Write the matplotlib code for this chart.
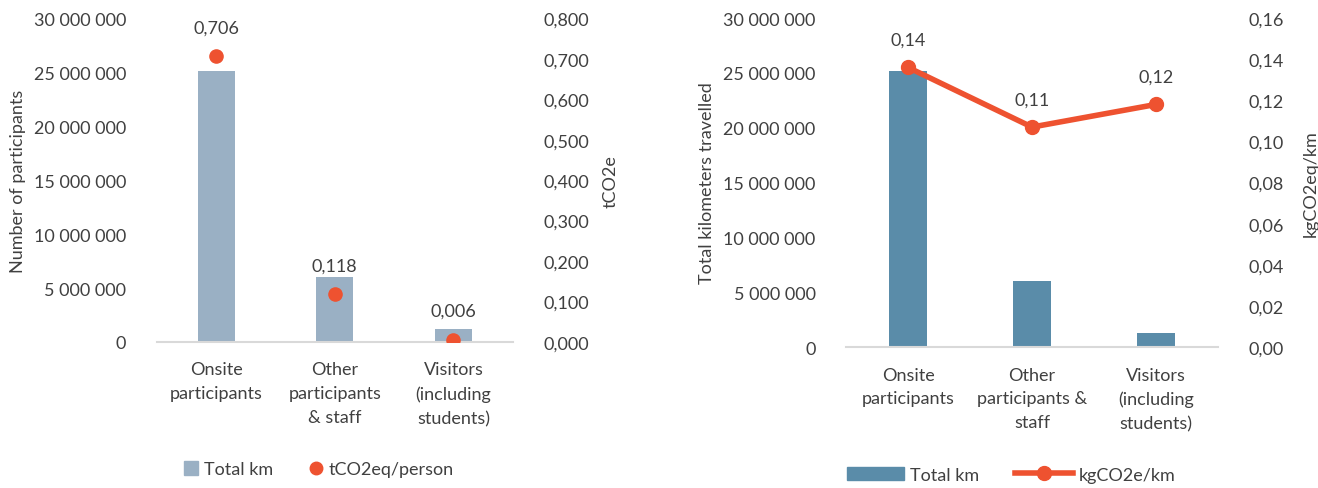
import matplotlib
matplotlib.use("Agg")
import matplotlib.pyplot as plt
from matplotlib.ticker import FuncFormatter
from matplotlib.lines import Line2D
from matplotlib.patches import Patch

plt.rcParams['font.family'] = ['Lato', 'DejaVu Sans']

cats_left = ["Onsite\nparticipants", "Other\nparticipants\n& staff", "Visitors\n(including\nstudents)"]
cats_right = ["Onsite\nparticipants", "Other\nparticipants &\nstaff", "Visitors\n(including\nstudents)"]
km_left = [25100000, 6000000, 1200000]
tco2_person = [0.706, 0.118, 0.006]
tco2_labels = ["0,706", "0,118", "0,006"]
km_right = [25200000, 6000000, 1250000]
kg_per_km = [0.136, 0.107, 0.118]
kg_labels = ["0,14", "0,11", "0,12"]

TXT = '#404040'
FS = 13
BAR_L = '#9AB0C4'
BAR_R = '#5A8CA9'
ORANGE = '#EE5230'

def space_fmt(v, p):
    return f"{int(round(v)):,}".replace(",", " ")

def comma_fmt(nd):
    return FuncFormatter(lambda v, p: f"{v:.{nd}f}".replace(".", ","))

fig = plt.figure(figsize=(13.18, 4.89), dpi=100)

def style(ax, ax2):
    for a in (ax, ax2):
        for s in a.spines.values():
            s.set_visible(False)
        a.tick_params(length=0, colors=TXT, labelsize=FS)
    ax.spines['bottom'].set_visible(True)
    ax.spines['bottom'].set_color('#D9D9D9')
    ax.spines['bottom'].set_linewidth(1.5)
    ax.tick_params(axis='y', pad=22)
    ax.tick_params(axis='x', pad=14)
    ax2.tick_params(axis='y', pad=22)

# Left chart
ax = fig.add_axes([0.119, 0.2986, 0.270, 0.662])
x = range(3)
ax.bar(x, km_left, width=0.31, color=BAR_L)
ax.set_ylim(0, 30000000)
ax.set_xlim(-0.5, 2.5)
ax.set_yticks(range(0, 30000001, 5000000))
ax.yaxis.set_major_formatter(FuncFormatter(space_fmt))
ax.set_xticks(list(x))
ax.set_xticklabels(cats_left, fontsize=FS, color=TXT, linespacing=1.6)
ax.set_ylabel("Number of participants", fontsize=FS, color=TXT, labelpad=6)
ax2 = ax.twinx()
ax2.scatter(x, tco2_person, s=90, color=ORANGE, zorder=5)
ax2.set_ylim(0, 0.8)
ax2.set_yticks([i * 0.1 for i in range(9)])
ax2.yaxis.set_major_formatter(comma_fmt(3))
ax2.set_ylabel("tCO2e", fontsize=FS, color=TXT, labelpad=10)
for xi, v, lab in zip(x, tco2_person, tco2_labels):
    ax2.annotate(lab, (xi, v), xytext=(0, 15), textcoords='offset points',
                 ha='center', va='bottom', fontsize=FS, color=TXT)
style(ax, ax2)
handles = [Line2D([], [], marker='s', linestyle='none', markersize=10, color=BAR_L),
           Line2D([], [], marker='o', linestyle='none', markersize=9, color=ORANGE)]
fig.legend(handles, ["Total km", "tCO2eq/person"], loc='center', bbox_to_anchor=(0.242, 0.038),
           ncol=2, frameon=False, fontsize=FS, labelcolor=TXT, handlelength=0.8,
           handletextpad=0.3, columnspacing=2.0)

# Right chart
bx = fig.add_axes([0.642, 0.288, 0.282, 0.673])
bx.bar(x, km_right, width=0.31, color=BAR_R)
bx.set_ylim(0, 30000000)
bx.set_xlim(-0.5, 2.5)
bx.set_yticks(range(0, 30000001, 5000000))
bx.yaxis.set_major_formatter(FuncFormatter(space_fmt))
bx.set_xticks(list(x))
bx.set_xticklabels(cats_right, fontsize=FS, color=TXT, linespacing=1.6)
bx.set_ylabel("Total kilometers travelled", fontsize=FS, color=TXT, labelpad=6)
bx2 = bx.twinx()
bx2.plot(x, kg_per_km, color=ORANGE, linewidth=4, marker='o', markersize=10, zorder=5)
bx2.set_ylim(0, 0.16)
bx2.set_yticks([i * 0.02 for i in range(9)])
bx2.yaxis.set_major_formatter(comma_fmt(2))
bx2.set_ylabel("kgCO2eq/km", fontsize=FS, color=TXT, labelpad=14)
for xi, v, lab in zip(x, kg_per_km, kg_labels):
    bx2.annotate(lab, (xi, v), xytext=(0, 14), textcoords='offset points',
                 ha='center', va='bottom', fontsize=FS, color=TXT)
style(bx, bx2)
handles = [Patch(color=BAR_R),
           Line2D([], [], marker='o', linewidth=4, markersize=10, color=ORANGE)]
fig.legend(handles, ["Total km", "kgCO2e/km"], loc='center', bbox_to_anchor=(0.767, 0.027),
           ncol=2, frameon=False, fontsize=FS, labelcolor=TXT, handlelength=3.2,
           handletextpad=0.3, columnspacing=2.0)

fig.savefig("out.png", dpi=100)
